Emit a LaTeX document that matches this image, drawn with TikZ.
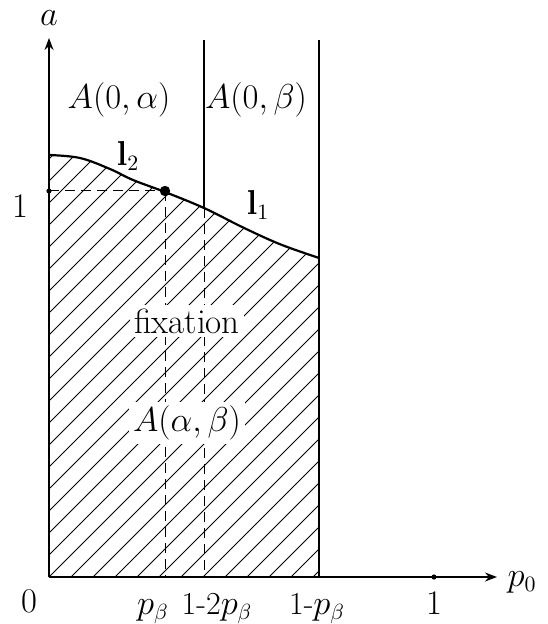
\documentclass[tikz,border=0pt]{standalone}
\usetikzlibrary{arrows.meta}
\begin{document}
\begin{tikzpicture}[x=0.5pt,y=-0.5pt,
  axis/.style={line width=0.7pt,-{Stealth[length=6pt,width=4.5pt]}},
  bound/.style={line width=0.9pt},
  curvestyle/.style={line width=1.1pt},
  dashline/.style={line width=0.5pt,dash pattern=on 5pt off 3pt},
  hatch/.style={line width=0.4pt},
  lbl/.style={inner sep=0pt,font=\fontsize{16}{19}\selectfont},
  boxlbl/.style={lbl,fill=white,inner sep=2pt}]
\useasboundingbox (0,0) rectangle (547,624);
\coordinate (O) at (49,577);
\coordinate (Xend) at (497,577);
\coordinate (Yend) at (49,38);
\coordinate (P) at (165,191);
\coordinate (Q) at (204,208);
\coordinate (Qtop) at (204,40);
\coordinate (Rtop) at (319,40);
\coordinate (Rbot) at (319,577);
\coordinate (Pbot) at (165,577);
\coordinate (Qbot) at (204,577);
\coordinate (Y1) at (49,191);
\coordinate (X1) at (434,577);
% hatching
\begin{scope}
\clip plot[smooth,tension=0.6] coordinates {(49,155) (80,158) (110,169) (133,180) (165,192) (204,208) (240,226) (270,240) (290,248) (319,258)} -- (319,577) -- (49,577) -- cycle;
\foreach \k in {-20,...,20} {
  \draw[hatch] (49+22*\k,577) -- ++(500,-500);
}
\end{scope}
% curve
\draw[curvestyle] plot[smooth,tension=0.6] coordinates {(49,155) (80,158) (110,169) (133,180) (165,192) (204,208) (240,226) (270,240) (290,248) (319,258)};
% verticals
\draw[bound] (Qtop) -- (Q);
\draw[bound] (Rtop) -- (Rbot);
\draw[dashline] (P) -- (Pbot);
\draw[dashline] (Q) -- (Qbot);
\draw[dashline] (Y1) -- (P);
% axes
\draw[axis] (O) -- (Xend);
\draw[axis] (O) -- (Yend);
% dots
\fill (P) circle (2.6pt);
\fill (Y1) circle (1.3pt);
\fill (X1) circle (1.3pt);
% labels
\node[lbl] (la) at (49,18) {$a$};
\node[lbl] (lA0a) at (119,100) {$A(0,\alpha)$};
\node[lbl] (lA0b) at (256,100) {$A(0,\beta)$};
\node[lbl] (ll2) at (128,156) {$\mathbf{l}_2$};
\node[lbl] (ll1) at (258,205) {$\mathbf{l}_1$};
\node[lbl] (lone) at (20,206) {$1$};
\node[boxlbl,font=\fontsize{17.5}{20}\selectfont] (lfix) at (187,321) {fixation};
\node[boxlbl] (lAab) at (187,423) {$A(\alpha,\beta)$};
\node[lbl] (lzero) at (29,601) {$0$};
\node[lbl,anchor=base] (lpb) at (153,614) {$p_\beta$};
\node[lbl,anchor=base] (l12pb) at (217,614) {1-2$p_\beta$};
\node[lbl,anchor=base] (l1pb) at (317,614) {1-$p_\beta$};
\node[lbl,anchor=base] (lx1) at (434,614) {$1$};
\node[lbl] (lp0) at (522,582) {$p_0$};
\end{tikzpicture}
\end{document}
